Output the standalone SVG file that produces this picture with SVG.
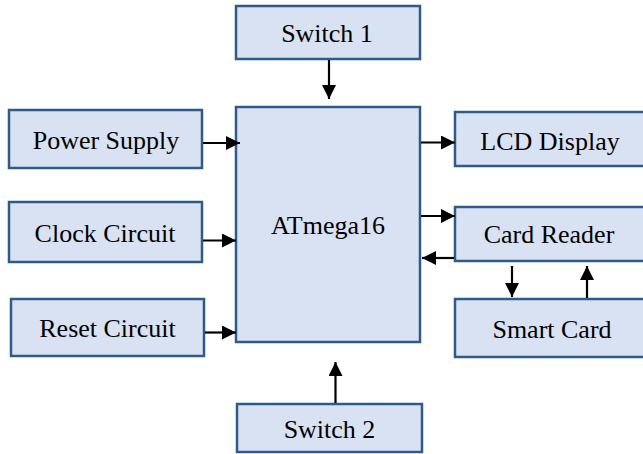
<svg xmlns="http://www.w3.org/2000/svg" width="643" height="454" viewBox="0 0 643 454">
<style>
.box{fill:#D9E2F3;stroke:#2E5B88;stroke-width:2.5}
.lbl{font-family:'Liberation Serif','Times New Roman','DejaVu Serif',serif;font-size:26px;fill:#000;text-anchor:middle}
.conn{stroke:#000;stroke-width:2.2;fill:none;marker-end:url(#ah)}
</style>
<defs>
<marker id="ah" markerUnits="userSpaceOnUse" markerWidth="14" markerHeight="14" viewBox="0 0 14 14" refX="14" refY="7" orient="auto">
<path d="M0,0 L14,7 L0,14 Z" fill="#000"/>
</marker>
</defs>
<rect width="643" height="454" fill="#fff"/>
<g id="switch1"><rect class="box" x="236" y="6" width="184" height="53"/><text class="lbl" font-family="Liberation Serif, serif" x="327" y="42">Switch 1</text></g>
<g id="power"><rect class="box" x="9" y="110" width="193" height="58"/><text class="lbl" font-family="Liberation Serif, serif" x="106" y="149">Power Supply</text></g>
<g id="clock"><rect class="box" x="9" y="202" width="193" height="60"/><text class="lbl" font-family="Liberation Serif, serif" x="105" y="242">Clock Circuit</text></g>
<g id="reset"><rect class="box" x="11" y="299" width="193" height="57"/><text class="lbl" font-family="Liberation Serif, serif" x="107.5" y="337">Reset Circuit</text></g>
<g id="atmega"><rect class="box" x="236" y="107" width="184" height="235"/><text class="lbl" font-family="Liberation Serif, serif" x="328" y="234">ATmega16</text></g>
<g id="switch2"><rect class="box" x="237" y="404" width="185" height="48"/><text class="lbl" font-family="Liberation Serif, serif" x="329.5" y="438">Switch 2</text></g>
<g id="lcd"><rect class="box" x="455" y="112" width="200" height="54"/><text class="lbl" font-family="Liberation Serif, serif" x="550" y="150">LCD Display</text></g>
<g id="reader"><rect class="box" x="455" y="207" width="200" height="54"/><text class="lbl" font-family="Liberation Serif, serif" x="549" y="243">Card Reader</text></g>
<g id="smartcard"><rect class="box" x="455" y="299" width="200" height="58"/><text class="lbl" font-family="Liberation Serif, serif" x="552" y="338">Smart Card</text></g>
<g id="connectors">
<line class="conn" x1="329" y1="60" x2="329" y2="99"/>
<line class="conn" x1="203" y1="143" x2="240" y2="143"/>
<line class="conn" x1="203" y1="240.5" x2="236" y2="240.5"/>
<line class="conn" x1="205" y1="332.5" x2="236" y2="332.5"/>
<line class="conn" x1="335.5" y1="403" x2="335.5" y2="362"/>
<line class="conn" x1="421" y1="142.5" x2="455" y2="142.5"/>
<line class="conn" x1="421" y1="216" x2="455" y2="216"/>
<line class="conn" x1="454" y1="258" x2="422" y2="258"/>
<line class="conn" x1="512" y1="266" x2="512" y2="297"/>
<line class="conn" x1="587" y1="298" x2="587" y2="266"/>
</g>
</svg>
